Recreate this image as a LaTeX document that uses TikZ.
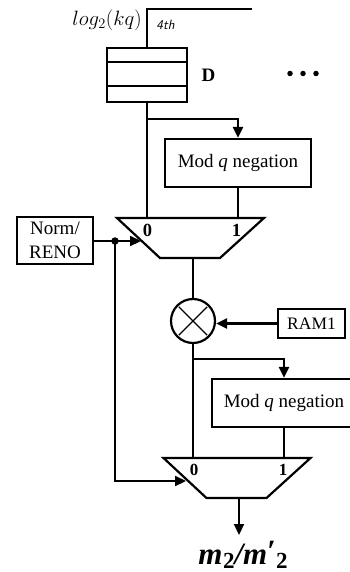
\documentclass[tikz,border=0pt]{standalone}
\usepackage{fontspec}
\setmainfont{Liberation Serif}
\usetikzlibrary{arrows.meta,calc}
\tikzset{
  x=1pt,y=-1pt,
  every path/.style={line width=2.2pt,black},
  boxnode/.style={draw,rectangle,inner sep=0pt,font=\fontsize{19}{21}\selectfont,align=center},
  muxnode/.style={rectangle,minimum width=147pt,minimum height=40pt,inner sep=0pt,outer sep=0pt},
  arr/.style={-{Triangle[length=11pt,width=10pt]}},
  muxlabel/.style={font=\fontsize{18.5}{20}\selectfont\bfseries,inner sep=0pt},
}
\begin{document}
\begin{tikzpicture}
\useasboundingbox (0,0) rectangle (349,572);
% register
\node[draw,rectangle,minimum width=80pt,minimum height=54pt,inner sep=0pt] (reg) at (147,75) {};
\coordinate (regA) at (107,62); \coordinate (regAe) at (187,62);
\coordinate (regB) at (107,86); \coordinate (regBe) at (187,86);
\draw (regA) -- (regAe);
\draw (regB) -- (regBe);
\coordinate (topend) at (252,9);
\coordinate (topcorner) at (reg.north |- topend);
\draw (reg.north) -- (topcorner) -- (topend);
\node[inner sep=0pt,font=\fontsize{22.5}{24}\selectfont] (loglab) at (107,20) {$log_2(kq)$};
\node[inner sep=0pt,font=\fontsize{13.5}{15}\selectfont\sffamily\itshape] (fourth) at (165.5,25) {4th};
\node[inner sep=0pt,font=\fontsize{19}{21}\selectfont\bfseries] (dlab) at (208.5,75.5) {D};
\foreach \n/\x in {d1/290,d2/303,d3/316}{\node[circle,fill=black,inner sep=0pt,minimum size=5.5pt] (\n) at (\x,73.5) {};}
% first stage
\node[boxnode,minimum width=146pt,minimum height=48pt] (neg1) at (238,163) {Mod \textit{q} negation};
\node[muxnode] (mux1) at (190.5,238) {};
\draw (mux1.north west) -- (mux1.north east) -- ($(mux1.south east)+(-44,0)$) -- ($(mux1.south west)+(43,0)$) -- cycle;
\coordinate (mux1a) at (reg.south |- mux1.north);
\coordinate (mux1b) at (neg1.south |- mux1.north);
\coordinate (br1) at (reg.south |- 0,119);
\coordinate (br1c) at (neg1.north |- br1);
\draw (reg.south) -- (mux1a);
\draw[arr] (br1) -- (br1c) -- (neg1.north);
\draw (neg1.south) -- (mux1b);
\node[muxlabel] (m1z) at (147.5,230) {0};
\node[muxlabel] (m1o) at (236.5,230) {1};
\node[boxnode,minimum width=76pt,minimum height=47pt,font=\fontsize{19}{24}\selectfont] (norm) at (55,240.5) {Norm/\\RENO};
\coordinate (m1in) at (141,241);
\node[circle,fill=black,inner sep=0pt,minimum size=7.5pt] (dot) at (115,241) {};
\draw[arr] (norm.east |- m1in) -- (m1in);
% multiplier
\node[draw,circle,minimum size=44pt,inner sep=0pt] (mult) at (193,321) {};
\draw[line width=1.4pt,shorten >=3pt,shorten <=3pt] (mult.north west) -- (mult.south east);
\draw[line width=1.4pt,shorten >=3pt,shorten <=3pt] (mult.north east) -- (mult.south west);
\draw (mux1.south -| mult.north) -- (mult.north);
\node[boxnode,minimum width=67pt,minimum height=29pt,font=\fontsize{17.5}{20}\selectfont] (ram) at (311.5,323.5) {RAM1};
\draw[arr] (ram.west) -- (mult.east |- ram.west);
% second stage
\node[boxnode,minimum width=144pt,minimum height=48pt] (neg2) at (284,403) {Mod \textit{q} negation};
\node[muxnode] (mux2) at (237,478) {};
\draw (mux2.north west) -- (mux2.north east) -- ($(mux2.south east)+(-44,0)$) -- ($(mux2.south west)+(43,0)$) -- cycle;
\coordinate (mux2a) at (mult.south |- mux2.north);
\coordinate (mux2b) at (neg2.south |- mux2.north);
\coordinate (br2) at (mult.south |- 0,359);
\coordinate (br2c) at (neg2.north |- br2);
\draw (mult.south) -- (mux2a);
\draw[arr] (br2) -- (br2c) -- (neg2.north);
\draw (neg2.south) -- (mux2b);
\node[muxlabel,font=\fontsize{17}{19}\selectfont\bfseries] (m2z) at (194,470) {0};
\node[muxlabel,font=\fontsize{17}{19}\selectfont\bfseries] (m2o) at (283,470) {1};
\coordinate (m2in) at (186,481);
\coordinate (fbc) at (dot |- m2in);
\draw[arr] (dot.center) -- (fbc) -- (m2in);
\node[inner sep=0pt,anchor=base,font=\fontsize{31}{33}\selectfont\bfseries\itshape] (out) at (243,564) {m\kern0.5pt{\upshape\fontsize{23}{25}\selectfont\raisebox{-4pt}{2}}/m\raisebox{3pt}{\upshape ′}{\upshape\fontsize{23}{25}\selectfont\raisebox{-4pt}{2}}};
\coordinate (outtip) at (239,535);
\draw[arr] (mux2.south -| outtip) -- (outtip);
\end{tikzpicture}
\end{document}
